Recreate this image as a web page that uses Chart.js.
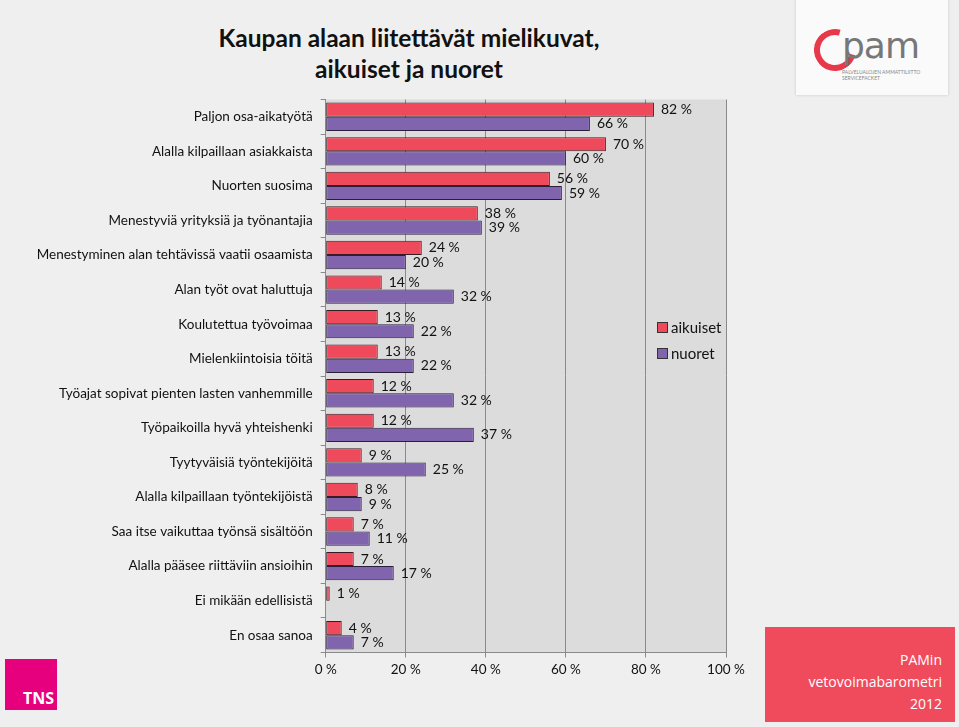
<!DOCTYPE html>
<html lang="fi">
<head>
<meta charset="UTF-8" />
<title>Kaupan alaan liitettävät mielikuvat</title>
<script src="https://cdn.jsdelivr.net/npm/chart.js"></script>
<style>
  body {
    margin: 0;
    width: 959px;
    height: 727px;
    overflow: hidden;
    background: #efefef;
    font-family: Lato, sans-serif;
    position: relative;
  }
  #wrap { position: absolute; left: 0; top: 0; width: 959px; height: 727px; }
  .title {
    position: absolute; left: 159px; top: 22px; width: 500px;
    text-align: center; font-weight: bold; font-size: 24.5px; line-height: 31px; color: #111;
  }
  .pam {
    position: absolute; left: 796px; top: -4px; width: 152px; height: 99px;
    background: #fafafa; box-shadow: 0 0 3px rgba(0,0,0,0.15);
  }
  .pam .arc {
    position: absolute; left: 18px; top: 33px; width: 30px; height: 30px;
    border: 6px solid #e8394a; border-right-color: transparent; border-radius: 50%;
    transform: rotate(-30deg);
  }
  .pam .word {
    position: absolute; left: 46px; top: 29px; font-size: 36px; color: #777; letter-spacing: -1px;
    font-family: "DejaVu Sans", sans-serif;
  }
  .pam .small {
    position: absolute; left: 46px; top: 73px; font-size: 5px; color: #888; line-height: 6px;
  }
  .tns {
    position: absolute; left: 5px; top: 659px; width: 52px; height: 51px; background: #e6007e;
  }
  .tns span {
    position: absolute; right: 3px; bottom: 1px; color: #fff; font-weight: bold; font-size: 16px;
    font-family: "Open Sans", sans-serif;
  }
  .barometri {
    position: absolute; left: 765px; top: 627px; width: 190px; height: 95px; background: #ef4b5c;
    color: #fff; font-size: 14px; line-height: 22px; text-align: right; box-sizing: border-box;
    padding: 22px 13px 0 0; font-family: "Open Sans", sans-serif;
  }
</style>
</head>
<body>
<div class="title">Kaupan alaan liitettävät mielikuvat,<br>aikuiset ja nuoret</div>
<div class="pam"><div class="arc"></div><div class="word">pam</div>
  <div class="small">PALVELUALOJEN AMMATTILIITTO<br>SERVICEFACKET</div></div>
<div id="wrap"><canvas id="chart"></canvas></div>
<div class="tns"><span>TNS</span></div>
<div class="barometri">PAMin<br>vetovoimabarometri<br>2012</div>

<script>
const categories = [
  'Paljon osa-aikatyötä',
  'Alalla kilpaillaan asiakkaista',
  'Nuorten suosima',
  'Menestyviä yrityksiä ja työnantajia',
  'Menestyminen alan tehtävissä vaatii osaamista',
  'Alan työt ovat haluttuja',
  'Koulutettua työvoimaa',
  'Mielenkiintoisia töitä',
  'Työajat sopivat pienten lasten vanhemmille',
  'Työpaikoilla hyvä yhteishenki',
  'Tyytyväisiä työntekijöitä',
  'Alalla kilpaillaan työntekijöistä',
  'Saa itse vaikuttaa työnsä sisältöön',
  'Alalla pääsee riittäviin ansioihin',
  'Ei mikään edellisistä',
  'En osaa sanoa'
];
const aikuiset = [82, 70, 56, 38, 24, 14, 13, 13, 12, 12, 9, 8, 7, 7, 1, 4];
const nuoret   = [66, 60, 59, 39, 20, 32, 22, 22, 32, 37, 25, 9, 11, 17, null, 7];
const xTicks = [0, 20, 40, 60, 80, 100];

const redFill = '#ef4a5c';
const purpleFill = '#8064ad';
const font = { family: 'Lato, sans-serif', size: 13.5 };

// grey plot background
const plotBg = {
  id: 'plotBg',
  beforeDraw(chart) {
    const { ctx, chartArea: a } = chart;
    ctx.save();
    ctx.fillStyle = '#dcdcdc';
    ctx.fillRect(a.left, a.top, a.right - a.left, a.bottom - a.top);
    ctx.restore();
  }
};

// value labels at bar ends
const valueLabels = {
  id: 'valueLabels',
  afterDatasetsDraw(chart) {
    const ctx = chart.ctx;
    ctx.save();
    ctx.font = '14px Lato, sans-serif';
    ctx.fillStyle = '#111';
    ctx.textBaseline = 'middle';
    chart.data.datasets.forEach((ds, i) => {
      chart.getDatasetMeta(i).data.forEach((el, j) => {
        const v = ds.data[j];
        if (v == null) return;
        ctx.fillText(v + ' %', el.x + 7, el.y);
      });
    });
    ctx.restore();
  }
};

// legend inside plot, right side
const insideLegend = {
  id: 'insideLegend',
  afterDraw(chart) {
    const ctx = chart.ctx;
    ctx.save();
    ctx.font = '15px Lato, sans-serif';
    ctx.textBaseline = 'middle';
    chart.data.datasets.forEach((ds, i) => {
      const y = 328 + i * 26;
      ctx.fillStyle = ds.backgroundColor;
      ctx.strokeStyle = '#333';
      ctx.lineWidth = 1;
      ctx.fillRect(657.5, y - 5.5, 10, 10);
      ctx.strokeRect(657.5, y - 5.5, 10, 10);
      ctx.fillStyle = '#111';
      ctx.fillText(ds.label, 671, y);
    });
    ctx.restore();
  }
};

new Chart(document.getElementById('chart'), {
  type: 'bar',
  data: {
    labels: categories,
    datasets: [
      { label: 'aikuiset', data: aikuiset, backgroundColor: redFill, borderColor: '#3b1b22', borderWidth: 1, borderSkipped: false },
      { label: 'nuoret', data: nuoret, backgroundColor: purpleFill, borderColor: '#2a1f3b', borderWidth: 1, borderSkipped: false }
    ]
  },
  options: {
    indexAxis: 'y',
    animation: false,
    responsive: true,
    maintainAspectRatio: false,
    layout: { padding: { left: 0, right: 233, top: 99.5, bottom: 44.5 } },
    datasets: { bar: { barPercentage: 1, categoryPercentage: 0.82 } },
    plugins: { legend: { display: false }, tooltip: { enabled: false } },
    scales: {
      x: {
        min: 0, max: 100,
        afterBuildTicks: s => { s.ticks = xTicks.map(v => ({ value: v })); },
        afterFit: s => { s.height = 30; },
        ticks: { callback: v => v + ' %', color: '#111', font, padding: 4, maxRotation: 0 },
        grid: { color: '#8a8a8a', tickLength: 5 },
        border: { color: '#8a8a8a' }
      },
      y: {
        afterFit: s => { s.width = 325.7; },
        ticks: { color: '#111', font, padding: 8, autoSkip: false },
        grid: { drawOnChartArea: false, tickLength: 5, offset: true, color: '#8a8a8a' },
        border: { color: '#8a8a8a' }
      }
    }
  },
  plugins: [plotBg, valueLabels, insideLegend]
});
</script>
</body>
</html>
